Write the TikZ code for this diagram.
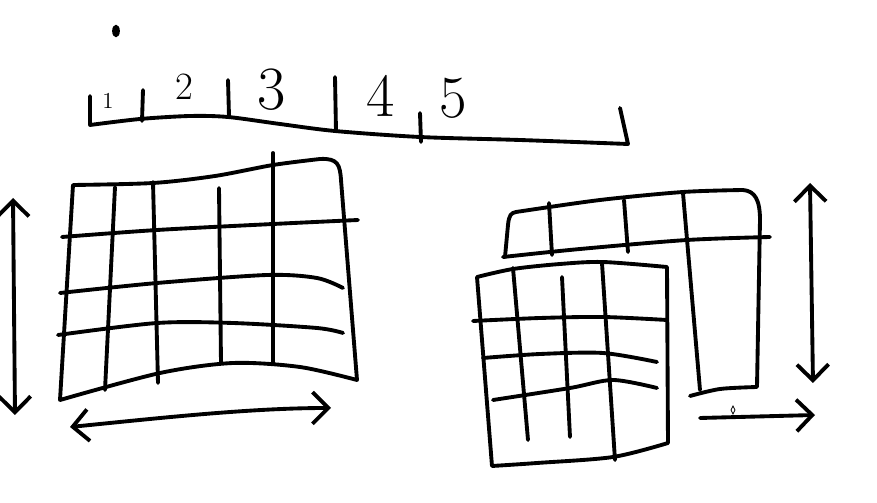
\documentclass[tikz,border=0pt]{standalone}
\usetikzlibrary{arrows.meta}

\tikzset{
  pen/.style={line width=2.2pt, line cap=round, line join=round},
  barb/.tip={Straight Barb[length=9pt,width=18pt]},
  twoway/.style={pen, barb-barb},
  oneway/.style={pen, -barb},
  digit/.style={inner sep=0pt}
}

\begin{document}
\begin{tikzpicture}[x=0.02cm, y=-0.02cm]
  \useasboundingbox (0,0) rectangle (877,503);

  % ruler with numbers
  \fill (116,31) ellipse [x radius=2.2pt, y radius=3.6pt];
  \draw[pen] (90,96) -- plot[smooth] coordinates {(90,125) (140,119) (190,116) (228,117)
    (280,124) (335,131) (420,137) (520,140) (628,144)} -- (620,108);
  \draw[pen] (143,90) -- (142,121);
  \draw[pen] (228,80) -- (229,116);
  \draw[pen] (335,77) -- (336,131);
  \draw[pen] (420,113) -- (421,142);
  \node[digit, font=\fontsize{13}{13}\selectfont] (one)   at (108,101) {1};
  \node[digit, font=\fontsize{22}{22}\selectfont] (two)   at (184,87)  {2};
  \node[digit, font=\fontsize{35}{35}\selectfont] (three) at (272,90)  {3};
  \node[digit, font=\fontsize{35}{35}\selectfont] (four)  at (381,96)  {4};
  \node[digit, font=\fontsize{34}{34}\selectfont] (five)  at (453,98)  {5};

  % left grid
  \draw[pen] plot[smooth] coordinates {(73,185) (153,183) (215,176) (273,165) (320,159)}
    .. controls (338,158) and (340,165) .. (341,180)
    -- (357,380)
    -- plot[smooth] coordinates {(357,380) (300,367) (233,363) (160,373) (60,400)}
    -- cycle;
  \draw[pen] plot[smooth] coordinates {(62,237) (157,230) (273,224) (358,220)};
  \draw[pen] plot[smooth] coordinates {(60,293) (157,283) (267,275) (317,278) (343,288)};
  \draw[pen] plot[smooth] coordinates {(58,335) (157,323) (233,323) (317,328) (343,333)};
  \draw[pen] (115,187) -- (105,390);
  \draw[pen] (153,182) -- (158,383);
  \draw[pen] (219,188) -- (221,363);
  \draw[pen] (273,153) -- (273,363);

  \coordinate (lvtop) at (13,198);
  \coordinate (lvbot) at (15,415);
  \draw[twoway] (lvtop) -- (lvbot);
  \coordinate (lhleft)  at (70,427);
  \coordinate (lhright) at (331,408);
  \draw[twoway] (lhleft) .. controls (160,418) and (250,408) .. (lhright);

  % right, back strip and column
  \draw[pen] (505,257) -- (508,225) .. controls (509,215) and (511,213) .. (516,212)
    -- plot[smooth] coordinates {(516,212) (600,200) (683,192) (743,190)}
    .. controls (755,191) and (760,200) .. (760,220)
    -- (757,387)
    -- plot[smooth] coordinates {(757,387) (720,389) (690,396)};
  \draw[pen] (683,193) -- (700,390);
  \draw[pen] plot[smooth] coordinates {(503,257) (580,249) (687,240) (770,237)};
  \draw[pen] (549,203) -- (552,255);
  \draw[pen] (624,200) -- (628,252);

  % right, front grid
  \draw[pen] plot[smooth] coordinates {(477,277) (513,269) (560,264) (603,262) (667,267)}
    -- (668,443)
    -- plot[smooth] coordinates {(668,443) (613,457) (537,463) (492,466)}
    -- cycle;
  \draw[pen] plot[smooth] coordinates {(473,321) (540,318) (603,317) (667,320)};
  \draw[pen] plot[smooth] coordinates {(483,358) (540,354) (603,353) (657,362)};
  \draw[pen] plot[smooth] coordinates {(493,400) (570,388) (613,380) (657,388)};
  \draw[pen] (513,268) -- (528,440);
  \draw[pen] (562,277) -- (570,437);
  \draw[pen] (602,263) -- (615,460);

  \coordinate (rvtop) at (810,183);
  \coordinate (rvbot) at (813,383);
  \draw[twoway] (rvtop) -- (rvbot);
  \coordinate (rhleft)  at (700,418);
  \coordinate (rhright) at (815,415);
  \draw[oneway] (rhleft) -- (rhright);

  % small cursor mark
  \draw[line width=0.4pt] (733,406) -- (735,410) -- (733,414) -- (731,410) -- cycle;
\end{tikzpicture}
\end{document}
